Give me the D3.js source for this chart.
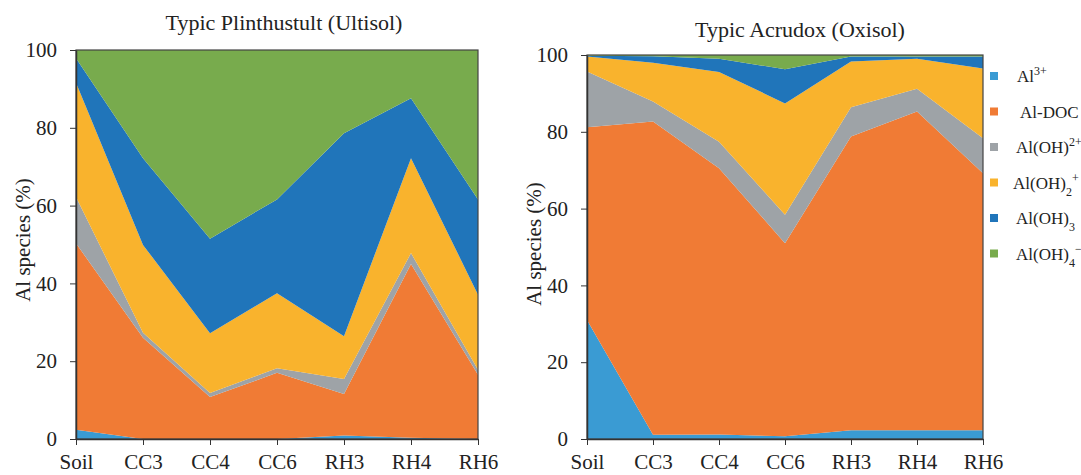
<!DOCTYPE html>
<html>
<head>
<meta charset="utf-8">
<script src="https://cdn.jsdelivr.net/npm/d3@7"></script>
<style>
  body { margin: 0; background: #fff; }
  svg text { font-family: "Liberation Serif", "Times New Roman", Times, "DejaVu Serif", serif; fill: #222; }
</style>
</head>
<body>
<div id="chart"></div>
<script>
const serif = "'Liberation Serif', 'Times New Roman', Times, 'DejaVu Serif', serif";

// sampling sites along x
const sites = ["Soil", "CC3", "CC4", "CC6", "RH3", "RH4", "RH6"];
const speciesKeys = ["al3", "doc", "oh", "oh2", "oh3", "oh4"];
const speciesColors = ["#3a9bd3", "#f07b35", "#9ea3a7", "#f9b32d", "#2075ba", "#78ab4d"];

// Typic Plinthustult (Ultisol), % of each species
const ultAl3 = [2.4, 0, 0, 0, 0.9, 0.3, 0];
const ultDoc = [47.9, 26, 10.8, 17, 10.7, 44.7, 16.5];
const ultOh  = [11.9, 1.3, 1.0, 1.2, 3.8, 2.8, 1.3];
const ultOh2 = [29.4, 22.6, 15.4, 19.3, 11.0, 24.4, 19.3];
const ultOh3 = [6.3, 22.3, 24.3, 24.1, 52.2, 15.4, 24.5];
const ultOh4 = [2.1, 27.8, 48.5, 38.4, 21.4, 12.4, 38.4];

// Typic Acrudox (Oxisol)
const oxiAl3 = [31, 1.1, 1.2, 0.7, 2.3, 2.3, 2.3];
const oxiDoc = [50.2, 81.6, 69.3, 50.3, 76.5, 83.0, 66.9];
const oxiOh  = [14.5, 5.2, 6.9, 7.4, 7.6, 5.9, 9.1];
const oxiOh2 = [3.9, 10.1, 18.2, 29.0, 11.9, 7.8, 18.2];
const oxiOh3 = [0.2, 1.7, 3.4, 8.9, 1.3, 0.6, 3.1];
const oxiOh4 = [0.2, 0.3, 1.0, 3.7, 0.4, 0.4, 0.4];

const yTicks = [0, 20, 40, 60, 80, 100];

function buildRows(cols) {
  return sites.map((s, i) => {
    const row = { site: s };
    speciesKeys.forEach((k, j) => row[k] = cols[j][i]);
    return row;
  });
}

const svg = d3.select("#chart").append("svg")
  .attr("width", 1081)
  .attr("height", 475)
  .attr("font-family", serif);

const panels = [
  { title: "Typic Plinthustult (Ultisol)", rows: buildRows([ultAl3, ultDoc, ultOh, ultOh2, ultOh3, ultOh4]),
    left: 76, right: 478, top: 50, bottom: 439, titleX: 284, titleY: 30, yTitleX: 30, yTitleY: 240 },
  { title: "Typic Acrudox (Oxisol)", rows: buildRows([oxiAl3, oxiDoc, oxiOh, oxiOh2, oxiOh3, oxiOh4]),
    left: 587, right: 983, top: 55, bottom: 439, titleX: 800, titleY: 37, yTitleX: 541, yTitleY: 244 }
];

const stack = d3.stack().keys(speciesKeys);

panels.forEach(p => {
  const x = d3.scalePoint().domain(sites).range([p.left, p.right]);
  const y = d3.scaleLinear().domain([0, 100]).range([p.bottom, p.top]);

  const area = d3.area()
    .x(d => x(d.data.site))
    .y0(d => y(d[0]))
    .y1(d => y(Math.min(100, d[1])));

  const g = svg.append("g");
  g.selectAll("path.layer")
    .data(stack(p.rows))
    .join("path")
    .attr("class", "layer")
    .attr("d", area)
    .attr("fill", (d, i) => speciesColors[i]);

  // frame
  g.append("rect")
    .attr("x", p.left).attr("y", p.top)
    .attr("width", p.right - p.left).attr("height", p.bottom - p.top)
    .attr("fill", "none").attr("stroke", "#444").attr("stroke-width", 1.2);

  const xAxis = g.append("g")
    .attr("transform", `translate(0,${p.bottom})`)
    .call(d3.axisBottom(x).tickSize(6).tickSizeOuter(0));
  xAxis.attr("font-family", serif);
  xAxis.select(".domain").attr("stroke", "#333").attr("stroke-width", 1.5);
  xAxis.selectAll(".tick line").attr("stroke", "#333");
  xAxis.selectAll("text")
    .attr("y", 15).attr("dy", "0.71em")
    .style("font-family", serif)
    .style("font-size", "21px").attr("fill", "#222");

  const yAxis = g.append("g")
    .attr("transform", `translate(${p.left},0)`)
    .call(d3.axisLeft(y).tickValues(yTicks).tickSize(6).tickSizeOuter(0));
  yAxis.attr("font-family", serif);
  yAxis.select(".domain").attr("stroke", "#333").attr("stroke-width", 1.5);
  yAxis.selectAll(".tick line").attr("stroke", "#333");
  yAxis.selectAll("text")
    .attr("x", -19)
    .style("font-family", serif)
    .style("font-size", "21px").attr("fill", "#222");

  svg.append("text")
    .attr("x", p.titleX).attr("y", p.titleY)
    .attr("text-anchor", "middle")
    .style("font-size", "22px")
    .text(p.title);

  svg.append("text")
    .attr("transform", `translate(${p.yTitleX},${p.yTitleY}) rotate(-90)`)
    .attr("text-anchor", "middle")
    .style("font-size", "21px")
    .text("Al  species (%)");
});

// legend
const legendParts = [
  [["Al", 0], ["3+", 1]],
  [["Al-DOC", 0]],
  [["Al(OH)", 0], ["2+", 1]],
  [["Al(OH)", 0], ["2", -1], ["+", 1]],
  [["Al(OH)", 0], ["3", -1]],
  [["Al(OH)", 0], ["4", -1], ["\u2212", 1]]
];
const legendTextX = [1017, 1020, 1016, 1013, 1016, 1016];

const legend = svg.append("g");
legendParts.forEach((parts, i) => {
  const ly = 76 + i * 35.5;
  legend.append("rect")
    .attr("x", 990).attr("y", ly - 4)
    .attr("width", 8).attr("height", 8)
    .attr("fill", speciesColors[i]);
  const t = legend.append("text")
    .attr("x", legendTextX[i]).attr("y", ly + 6)
    .style("font-size", "17px");
  parts.forEach(([s, pos]) => {
    const ts = t.append("tspan").text(s);
    if (pos === 1) ts.attr("baseline-shift", "super").style("font-size", "12px");
    if (pos === -1) ts.attr("baseline-shift", "sub").style("font-size", "12px");
  });
});
</script>
</body>
</html>
